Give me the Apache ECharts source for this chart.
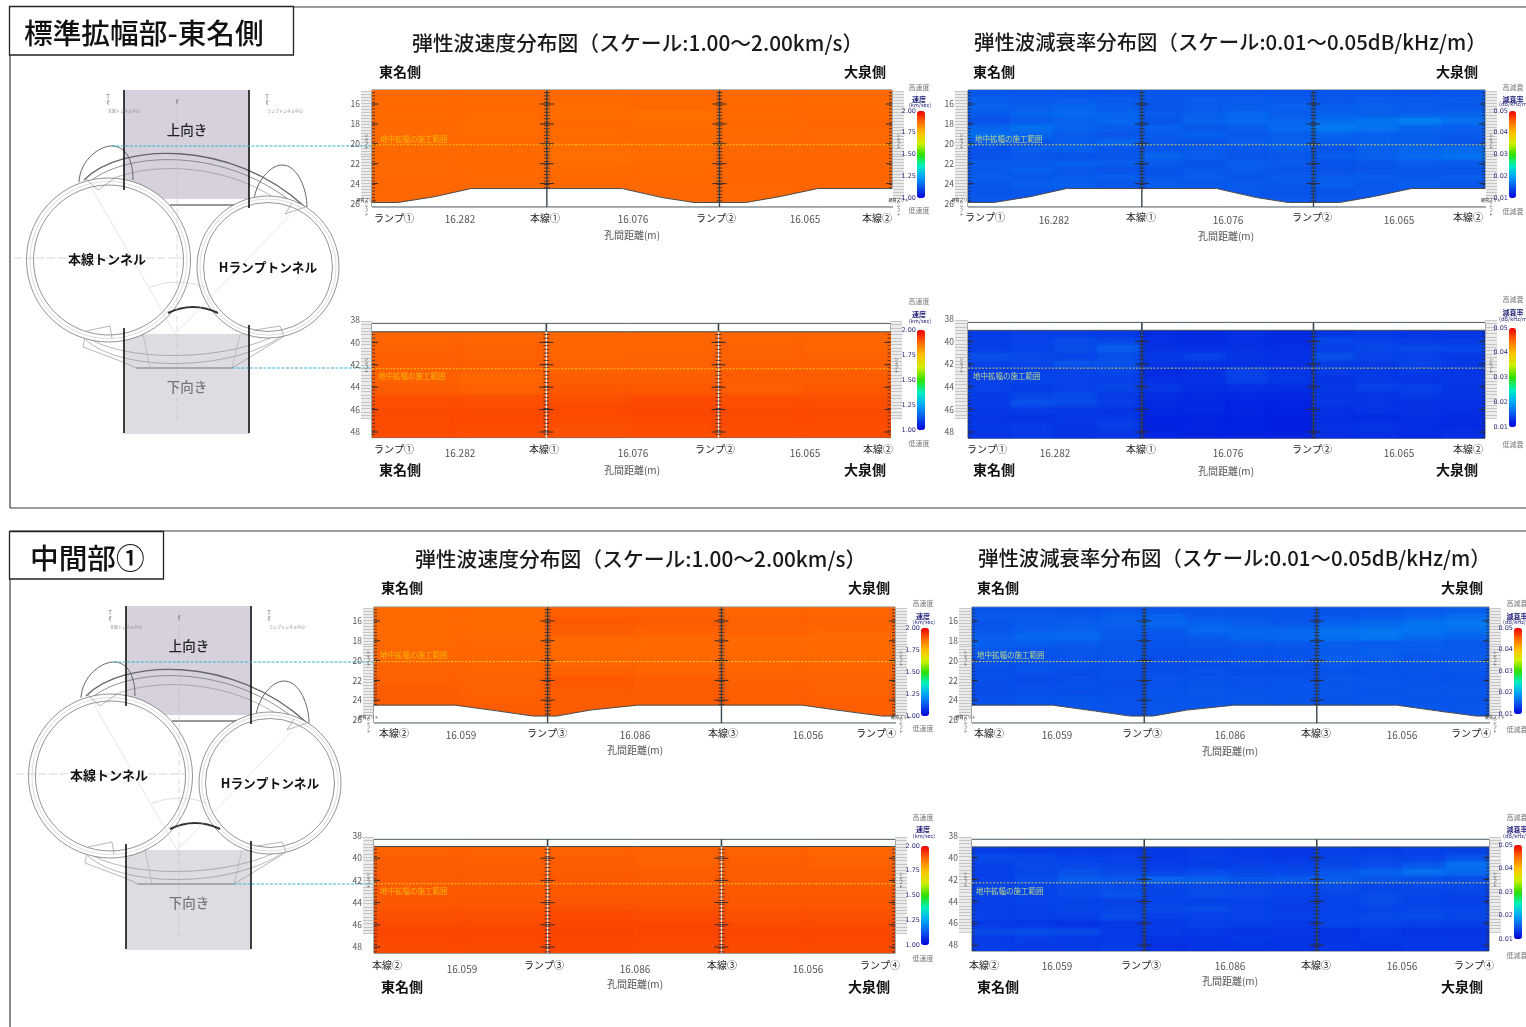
<!DOCTYPE html>
<html><head><meta charset="utf-8">
<style>html,body{margin:0;padding:0;background:#fff}#c{width:1526px;height:1027px}</style>
<script src="https://cdn.jsdelivr.net/npm/echarts@6/dist/echarts.min.js"></script>
</head><body><div id="c"></div>
<script>
// ---------- DATA ----------
const spacingEast = [16.282, 16.076, 16.065];
const spacingMid = [16.059, 16.086, 16.056];
const holesEast = ['ランプ①', '本線①', 'ランプ②', '本線②'];
const holesMid = ['本線②', 'ランプ③', '本線③', 'ランプ④'];
const upperDepthTicks = [16, 18, 20, 22, 24, 26];
const lowerDepthTicks = [38, 40, 42, 44, 46, 48];
const velocityTicks = [1.00, 1.25, 1.50, 1.75, 2.00];
const attenuationTicks = [0.01, 0.02, 0.03, 0.04, 0.05];
// lower edge of the measured section: [distance m, depth m]
const profileEast = [[0,25.9],[2.4,25.9],[5.9,25.3],[9.2,24.5],[23.3,24.5],[27,25.4],[30,25.9],[34.8,25.9],[38,25.3],[41.5,24.5],[48.423,24.5]];
const profileMid = [[0,24.5],[7.5,24.5],[11.5,25.1],[14.7,25.6],[16.9,25.6],[20,25.0],[24.4,24.5],[39.6,24.5],[43.5,25.1],[47,25.6],[48.201,25.6]];
// velocity, km/s
const velUpperEast = [
[1.875,1.875,1.875,1.875,1.875,1.875],[1.875,1.875,1.872,1.875,1.875,1.875],[1.875,1.875,1.870,1.868,1.875,1.875],
[1.875,1.872,1.875,1.870,1.875,1.878],[1.875,1.875,1.875,1.875,1.876,1.876],[1.875,1.875,1.870,1.872,1.876,1.876],
[1.875,1.875,1.868,1.870,1.876,1.878],[1.876,1.875,1.872,1.875,1.878,1.878],[1.876,1.876,1.875,1.875,1.878,1.878],
[1.878,1.876,1.876,1.876,1.878,1.878],[1.878,1.878,1.878,1.878,1.878,1.880]];
const velLowerEast = [
[1.880,1.880,1.878,1.878,1.880,1.880],[1.885,1.885,1.880,1.880,1.885,1.880],[1.888,1.885,1.882,1.885,1.885,1.885],
[1.888,1.888,1.885,1.885,1.888,1.888],[1.885,1.878,1.888,1.888,1.890,1.890],[1.890,1.885,1.895,1.895,1.888,1.895],
[1.905,1.905,1.905,1.910,1.905,1.905],[1.910,1.910,1.912,1.915,1.910,1.910],[1.910,1.912,1.908,1.912,1.910,1.910],
[1.910,1.908,1.905,1.908,1.908,1.908]];
const velUpperMid = [
[1.875,1.875,1.885,1.885,1.880,1.880],[1.875,1.875,1.895,1.892,1.885,1.885],[1.875,1.875,1.890,1.885,1.885,1.880],
[1.875,1.878,1.875,1.875,1.875,1.875],[1.878,1.878,1.875,1.875,1.875,1.875],[1.880,1.880,1.878,1.878,1.878,1.878],
[1.885,1.882,1.885,1.880,1.882,1.880],[1.885,1.885,1.895,1.890,1.885,1.885],[1.890,1.885,1.892,1.892,1.888,1.885],
[1.890,1.888,1.890,1.890,1.888,1.888],[1.890,1.890,1.890,1.890,1.888,1.888]];
const velLowerMid = [
[1.885,1.885,1.885,1.885,1.885,1.880],[1.890,1.888,1.890,1.885,1.888,1.885],[1.892,1.890,1.892,1.890,1.890,1.890],
[1.892,1.892,1.895,1.892,1.892,1.892],[1.895,1.895,1.895,1.895,1.895,1.895],[1.895,1.895,1.900,1.898,1.895,1.895],
[1.905,1.905,1.910,1.908,1.905,1.905],[1.912,1.912,1.915,1.915,1.912,1.912],[1.915,1.915,1.918,1.915,1.915,1.915],
[1.912,1.912,1.915,1.912,1.912,1.912]];
// attenuation, in 0.001 dB/kHz/m
const attUpperEast = [
[15.2,15.0,15.0,14.8,15.2,15.0,15.0,15.0,15.0,15.0,14.8,15.0],
[15.6,15.3,15.5,15.5,15.2,15.5,15.6,15.2,15.2,15.5,15.5,15.5],
[15.9,15.6,16.0,15.5,15.0,15.5,15.5,15.8,15.6,15.8,15.5,15.2],
[15.4,16.1,16.4,15.9,15.4,15.6,16.1,15.5,15.8,15.6,15.6,15.8],
[14.8,15.4,15.8,16.2,15.0,16.0,16.3,16.0,16.3,16.8,17.8,16.8],
[15.9,16.6,16.0,15.6,15.8,15.2,15.6,16.4,17.4,17.0,16.0,15.8],
[16.6,16.2,15.4,15.0,15.4,15.8,15.2,15.6,16.0,15.8,15.6,15.4],
[15.4,15.0,15.6,16.0,15.2,15.0,15.6,15.8,15.5,15.8,15.6,15.0],
[15.0,15.6,15.8,15.2,15.0,15.4,15.2,15.6,15.0,15.6,16.0,16.2],
[14.8,15.2,14.8,15.0,16.0,15.6,15.0,15.2,15.6,15.8,16.4,16.8],
[15.6,15.4,15.8,15.6,15.4,15.0,15.6,15.4,15.0,15.2,15.6,15.4],
[15.2,15.8,15.2,14.8,14.8,15.2,15.4,15.0,14.8,15.0,15.2,15.0],
[15.6,15.2,15.4,15.6,15.2,15.6,15.0,15.4,15.4,15.6,15.2,15.6],
[15.2,15.6,15.8,15.2,15.6,15.2,15.4,15.2,15.8,15.2,15.6,15.2],
[15.0,15.2,15.0,15.4,15.0,15.4,15.2,15.0,15.0,15.4,15.0,15.0],
[15.2,15.0,15.2,15.0,15.2,15.0,15.0,15.2,15.2,15.0,15.2,15.2]];
const attLowerEast = [
[13.6,13.8,13.6,13.4,12.6,12.6,12.8,12.6,13.2,13.4,13.2,13.2],
[13.8,14.0,14.4,14.2,12.8,12.6,12.8,12.6,14.2,13.8,13.6,13.6],
[13.6,14.0,14.6,15.6,13.0,12.8,13.0,12.8,13.8,14.2,14.4,14.2],
[14.8,14.4,14.0,14.6,13.4,14.0,13.2,13.0,14.8,14.0,13.8,13.4],
[14.0,14.2,15.0,14.8,13.2,13.0,12.8,12.8,13.6,13.6,14.0,13.4],
[13.6,13.8,14.0,14.2,12.6,12.8,13.8,13.2,13.6,13.4,13.6,13.2],
[13.8,14.2,14.0,13.8,12.8,13.0,14.0,13.4,13.2,13.4,13.2,13.4],
[14.0,13.6,13.8,14.2,13.4,12.8,13.0,12.8,13.4,14.0,13.8,13.2],
[13.6,14.0,14.4,13.6,12.8,12.6,12.6,12.4,13.2,13.2,13.6,13.2],
[13.6,14.8,14.6,13.8,12.6,12.4,12.2,12.2,13.4,13.2,13.0,13.0],
[13.4,13.6,13.4,13.2,12.4,12.6,12.2,12.0,12.8,13.2,13.0,12.8],
[13.2,13.0,13.4,13.4,12.2,12.2,12.0,12.0,12.8,12.6,12.8,12.6],
[13.4,13.6,13.2,13.8,12.0,12.2,12.0,11.8,13.0,13.2,12.8,12.6],
[13.2,13.4,13.0,13.2,12.2,12.0,12.0,12.0,12.8,12.8,12.6,12.8]];
const attUpperMid = [
[15.0,15.0,14.8,15.0,15.0,15.0,15.0,15.0,15.0,15.0,15.4,15.6],
[15.4,15.4,15.2,15.6,15.8,15.2,15.2,15.0,15.2,15.4,15.8,16.4],
[15.0,15.4,15.6,15.8,16.2,15.8,15.4,15.2,15.8,16.2,16.8,17.2],
[15.2,15.6,15.8,15.4,15.4,16.4,16.0,16.0,16.8,17.0,17.0,16.6],
[15.6,16.2,16.4,15.4,15.0,15.4,16.2,16.4,16.8,17.2,16.4,16.0],
[15.8,15.6,15.4,15.0,15.0,15.2,15.2,15.4,15.6,15.4,15.4,15.2],
[15.2,15.0,15.2,15.2,14.8,14.8,15.0,15.0,15.4,15.8,15.6,15.4],
[15.0,14.8,15.0,15.0,14.6,14.8,14.8,15.0,15.6,15.6,15.2,15.4],
[14.8,15.0,14.8,14.8,14.6,14.6,14.8,14.8,15.2,15.0,15.0,15.2],
[14.6,14.8,14.6,14.8,14.6,14.8,14.6,14.6,14.8,14.8,15.0,15.0],
[14.8,14.4,14.6,14.8,15.0,14.8,14.8,14.8,15.2,15.0,14.8,14.8],
[14.6,14.6,14.8,14.6,14.8,15.0,14.8,15.0,15.0,15.2,15.0,15.0],
[14.6,14.8,14.6,14.8,15.0,15.2,15.0,15.0,15.2,15.0,15.2,15.2],
[14.8,15.0,15.0,14.8,15.0,15.0,15.2,15.0,15.0,15.2,15.0,15.0],
[14.8,14.8,15.0,15.0,15.0,15.2,15.0,15.0,15.0,15.0,15.2,15.0],
[14.8,15.0,14.8,14.8,15.0,15.0,15.0,15.0,15.0,15.0,15.0,15.0]];
const attLowerMid = [
[13.6,13.4,13.4,13.4,13.4,13.6,13.4,13.2,13.8,13.6,13.8,13.8],
[14.4,14.2,13.8,13.8,13.4,13.8,13.6,13.4,14.0,14.2,14.0,14.6],
[14.0,14.4,14.2,14.0,13.6,13.6,13.8,13.8,14.2,14.4,15.0,16.6],
[13.8,14.2,14.8,14.4,14.0,14.4,14.2,14.2,15.0,15.8,16.8,16.4],
[13.8,14.6,15.6,15.2,16.0,15.8,15.0,15.4,15.6,15.2,14.8,14.6],
[14.0,14.2,14.4,14.6,14.2,14.4,14.2,14.0,14.6,14.2,14.4,14.4],
[14.2,14.0,14.4,15.0,14.0,14.6,14.4,14.0,14.2,14.4,14.2,14.0],
[13.8,14.0,14.0,14.0,14.0,13.8,13.8,13.8,14.0,14.6,14.0,13.8],
[13.8,14.0,14.2,14.2,14.4,14.6,14.0,13.6,14.0,14.0,14.2,14.2],
[14.0,13.8,14.0,14.6,13.8,13.8,14.0,14.0,14.0,14.4,14.6,14.2],
[13.4,13.2,13.0,13.4,13.6,14.0,13.8,13.4,14.2,14.2,13.8,13.8],
[14.4,14.6,14.4,13.6,13.6,13.4,13.2,13.4,13.0,13.4,13.2,13.2],
[13.6,13.8,13.6,13.4,13.2,13.2,13.4,13.2,13.2,13.4,13.4,13.4],
[13.6,13.4,13.4,13.6,12.8,13.0,13.0,13.0,13.2,13.0,13.2,13.2]];

// ---------- LAYOUT ----------
const JP = '"Noto Sans CJK JP","Noto Sans",sans-serif';
const velColors = ['#0000d8','#0a55ec','#00a8f8','#00f0c0','#30e000','#d0f000','#ffc000','#ff6a00','#f00000'];
const panels = [
 {kind:'v',rows:velUpperEast,spacing:spacingEast,holes:holesEast,profile:profileEast,ticks:upperDepthTicks,x0:372,x1:892,y0:104,y1:203.5,d0:16,d1:26,dMin:14.6,dMax:26.35,heatTop:14.6,heatBot:25.95,line:20.1,
  rl:[361,372],rr:[893,904],rMin:14.7,rMax:25.5,lab:{hx:[394,545,716,877],hy:218,sx:[460,633,805],sy:219,ax:632,ay:235},note:[380,139],bar:[917,111,8,87],lg:[919,87,99,105,210]},
 {kind:'a',rows:attUpperEast,spacing:spacingEast,holes:holesEast,profile:profileEast,ticks:upperDepthTicks,x0:968,x1:1485,y0:104,y1:203.5,d0:16,d1:26,dMin:14.6,dMax:26.35,heatTop:14.6,heatBot:25.95,line:20.1,
  rl:[955,968],rr:[1485,1497],rMin:14.7,rMax:25.5,lab:{hx:[985,1141,1312,1468],hy:217,sx:[1054,1228,1399],sy:220,ax:1226,ay:236},note:[975,139],bar:[1509,111,7,87],lg:[1513,87,99,104,211]},
 {kind:'v',rows:velLowerEast,spacing:spacingEast,holes:holesEast,ticks:lowerDepthTicks,x0:372,x1:890.5,y0:320,y1:432,d0:38,d1:48,dMin:38.3,dMax:48.5,heatTop:39.05,heatBot:48.5,line:42.35,
  rl:[361,372],rr:[891,902],rMin:38.1,rMax:46.8,lab:{hx:[394,544,715,878],hy:449,sx:[460,633,805],sy:453,ax:632,ay:470},note:[378,376],bar:[917,330,8,100],lg:[919,301,314,321,443]},
 {kind:'a',rows:attLowerEast,spacing:spacingEast,holes:holesEast,ticks:lowerDepthTicks,x0:968,x1:1485,y0:319,y1:432,d0:38,d1:48,dMin:38.3,dMax:48.55,heatTop:39,heatBot:48.55,line:42.35,
  rl:[955,968],rr:[1485,1497],rMin:38.1,rMax:46.8,lab:{hx:[987,1141,1312,1468],hy:449,sx:[1055,1228,1399],sy:453,ax:1226,ay:471},note:[973,376],bar:[1509,328,7,99],lg:[1513,299,312,319,444]},
 {kind:'v',rows:velUpperMid,spacing:spacingMid,holes:holesMid,profile:profileMid,ticks:upperDepthTicks,x0:374,x1:895,y0:621,y1:720,d0:16,d1:26,dMin:14.6,dMax:26.3,heatTop:14.6,heatBot:25.7,line:20.1,
  rl:[363,374],rr:[895,907],rMin:14.7,rMax:25.5,lab:{hx:[394,547,723,876],hy:733,sx:[461,635,808],sy:735,ax:635,ay:750},note:[380,655],bar:[921,628,8,88],lg:[923,603,616,622,728]},
 {kind:'a',rows:attUpperMid,spacing:spacingMid,holes:holesMid,profile:profileMid,ticks:upperDepthTicks,x0:972,x1:1489,y0:621,y1:720,d0:16,d1:26,dMin:14.6,dMax:26.3,heatTop:14.6,heatBot:25.7,line:20.1,
  rl:[959,972],rr:[1489,1501],rMin:14.7,rMax:25.5,lab:{hx:[989,1142,1316,1471],hy:733,sx:[1057,1230,1402],sy:735,ax:1230,ay:751},note:[977,655],bar:[1514,628,8,86],lg:[1517,603,616,622,729]},
 {kind:'v',rows:velLowerMid,spacing:spacingMid,holes:holesMid,ticks:lowerDepthTicks,x0:374,x1:895,y0:836,y1:947,d0:38,d1:48,dMin:38.3,dMax:48.55,heatTop:38.95,heatBot:48.55,line:42.3,
  rl:[363,374],rr:[895,907],rMin:38.1,rMax:46.8,lab:{hx:[387,544,722,880],hy:965,sx:[462,635,808],sy:969,ax:635,ay:984},note:[380,891],bar:[921,846,8,99],lg:[923,817,829,836,958]},
 {kind:'a',rows:attLowerMid,spacing:spacingMid,holes:holesMid,ticks:lowerDepthTicks,x0:972,x1:1489,y0:836,y1:945,d0:38,d1:48,dMin:38.3,dMax:48.55,heatTop:39,heatBot:48.55,line:42.3,
  rl:[959,972],rr:[1489,1501],rMin:38.1,rMax:46.8,lab:{hx:[984,1141,1316,1474],hy:965,sx:[1057,1230,1402],sy:966,ax:1230,ay:981},note:[976,891],bar:[1514,845,8,94],lg:[1517,817,829,836,955]}
];
const sideHeads = [[400,865,72],[994,1457,72],[400,865,470],[994,1457,470],[402,869,588],[998,1462,588],[402,869,987],[998,1462,987]];

// ---------- BUILD ----------
const grid=[],xAxis=[],yAxis=[],series=[],visualMap=[],g=[];
function txt(x,y,s,size,color,weight,align){
  g.push({type:'text',silent:true,x,y,style:{text:s,font:(weight||'normal')+' '+size+'px '+JP,fill:color||'#222',align:align||'center',verticalAlign:'middle'},z:20});
}
function addGrid(o,xa,ya){grid.push(o);xAxis.push(Object.assign({gridIndex:grid.length-1},xa));yAxis.push(Object.assign({gridIndex:grid.length-1},ya));return grid.length-1;}
const hidX={type:'value',show:false,min:0,max:1};

panels.forEach((p,pi)=>{
  const k=(p.y1-p.y0)/(p.d1-p.d0), py=d=>p.y0+(d-p.d0)*k;
  const total=p.spacing.reduce((a,b)=>a+b,0);
  const cum=[0]; p.spacing.forEach(s=>cum.push(cum[cum.length-1]+s));
  const lower=!p.profile;
  // rulers
  [p.rl,p.rr].forEach(r=>addGrid({left:r[0],width:r[1]-r[0],top:py(p.rMin),height:py(p.rMax)-py(p.rMin),show:true,backgroundColor:'#ececec',borderWidth:0},hidX,
    {type:'value',inverse:true,min:p.rMin,max:p.rMax,interval:0.3,axisLine:{show:false},axisTick:{show:false},axisLabel:{show:false},splitLine:{show:true,lineStyle:{color:'#b4b4b4',width:0.7}}}));
  // depth scale
  const first=p.ticks[0],last=p.ticks[p.ticks.length-1];
  addGrid({left:p.rl[0],width:1,top:py(first),height:py(last)-py(first),show:false},hidX,
    {type:'value',inverse:true,min:first,max:last,interval:2,axisLine:{show:false},axisTick:{show:false},splitLine:{show:false},
     axisLabel:{margin:1,fontSize:8.5,color:'#555',fontFamily:JP}});
  // main plot
  const gi=addGrid({left:p.x0,width:p.x1-p.x0,top:py(p.dMin),height:py(p.dMax)-py(p.dMin),show:true,backgroundColor:'#fff',borderColor:'#4a5a60',borderWidth:1},
    {type:'value',min:0,max:total,show:false},
    {type:'value',inverse:true,min:p.dMin,max:p.dMax,show:false});
  const axisRef={xAxisIndex:gi,yAxisIndex:gi};
  // cells
  const nr=p.rows.length,nc=p.rows[0].length,cells=[];
  const rowH=(p.heatBot-p.heatTop)/nr,colW=total/nc;
  p.rows.forEach((row,i)=>row.forEach((v,j)=>cells.push([j*colW,(j+1)*colW,p.heatTop+i*rowH,p.heatTop+(i+1)*rowH,p.kind==='a'?v/1000:v])));
  series.push(Object.assign({type:'custom',name:'cells'+pi,silent:true,animation:false,clip:true,encode:{x:[0,1],y:[2,3]},data:cells,z:2,
    renderItem:(ps,api)=>{const a=api.coord([api.value(0),api.value(2)]),b=api.coord([api.value(1),api.value(3)]),col=api.visual('color');
      return {type:'rect',shape:{x:a[0],y:a[1],width:b[0]-a[0]+0.7,height:b[1]-a[1]+0.7},style:{fill:col,shadowBlur:7,shadowColor:col}};}},axisRef));
  const cellIdx=series.length-1;
  // white band outside the measured section
  if(p.profile){
    const seg=[];for(let i=0;i+1<p.profile.length;i++)seg.push([p.profile[i][0],p.profile[i][1],p.profile[i+1][0],p.profile[i+1][1]]);
    series.push(Object.assign({type:'custom',silent:true,animation:false,encode:{x:[0,2],y:[1,3]},data:seg,z:3,
      renderItem:(ps,api)=>{const a=api.coord([api.value(0),api.value(1)]),b=api.coord([api.value(2),api.value(3)]),
        c=api.coord([api.value(2),p.dMax]),d=api.coord([api.value(0),p.dMax]);
        const wide=b[0]+1;
        return {type:'group',children:[{type:'polygon',shape:{points:[a,[wide,b[1]],[wide,c[1]+1],[d[0],d[1]+1]]},style:{fill:'#fff'}},
          {type:'line',shape:{x1:a[0],y1:a[1],x2:b[0],y2:b[1]},style:{stroke:'#4a4a4a',lineWidth:1}},
          {type:'line',shape:{x1:d[0],y1:d[1],x2:wide,y2:c[1]},style:{stroke:'#4a5a60',lineWidth:1}}]};}},axisRef));
  } else {
    series.push(Object.assign({type:'custom',silent:true,animation:false,encode:{x:[0,1],y:[2,3]},data:[[0,total,p.dMin+0.06,p.heatTop]],z:3,
      renderItem:(ps,api)=>{const a=api.coord([api.value(0),api.value(2)]),b=api.coord([api.value(1),api.value(3)]);
        return {type:'group',children:[{type:'rect',shape:{x:a[0],y:a[1],width:b[0]-a[0],height:b[1]-a[1]},style:{fill:'#fff'}},
          {type:'line',shape:{x1:a[0],y1:b[1],x2:b[0],y2:b[1]},style:{stroke:'#3a4a54',lineWidth:1}}]};}},axisRef));
  }
  // bore-hole lines with receiver marks
  const bores=[];
  const boreEnd=x=>{if(lower)return p.heatBot;let e=p.profile[0][1];p.profile.forEach(q=>{if(q[0]<=x+2.2)e=q[1];});return e;};
  cum.forEach((x,bi)=>{
    const side=bi===0?1:(bi===cum.length-1?-1:0);
    const e=boreEnd(x);
    bores.push([x,p.dMin,p.dMax,0,side]);
    for(let d=p.heatTop+0.25;d<e;d+=0.33)bores.push([x,d,d,1,side]);
    p.ticks.forEach(d=>{if(d>p.heatTop&&d<e)bores.push([x,d,d,2,side]);});
  });
  const heatStroke=(p.kind==='v'&&lower)?'#f4f4f4':'#39474e';
  series.push(Object.assign({type:'custom',silent:true,animation:false,clip:false,encode:{x:0,y:[1,2]},data:bores,z:4,
    renderItem:(ps,api)=>{const x=api.value(0),t=api.value(3),s=api.value(4);
      const a=api.coord([x,api.value(1)]);
      if(t===0){const b=api.coord([x,api.value(2)]);
        if(s!==0)return null;
        if(lower){const m=api.coord([x,p.heatTop]);
          return {type:'group',children:[
            {type:'line',shape:{x1:a[0],y1:a[1],x2:a[0],y2:m[1]},style:{stroke:'#39474e',lineWidth:1.6}},
            {type:'line',shape:{x1:a[0],y1:m[1],x2:a[0],y2:b[1]},style:{stroke:heatStroke,lineWidth:1.4}}]};}
        return {type:'line',shape:{x1:a[0],y1:a[1],x2:a[0],y2:b[1]},style:{stroke:heatStroke,lineWidth:1.4}};}
      const len=t===2?(s?6:7):3;
      const x1=s===-1?a[0]-len:(s===1?a[0]:a[0]-len),x2=s===-1?a[0]:(s===1?a[0]+len:a[0]+len);
      return {type:'line',shape:{x1,y1:a[1],x2,y2:a[1]},style:{stroke:'#2c2a33',lineWidth:t===2?1:0.8}};}},axisRef));
  // section line
  series.push(Object.assign({type:'line',silent:true,animation:false,symbol:'none',z:5,data:[[0,p.line],[total,p.line]],
    lineStyle:{type:[2,1.5],width:1,color:p.kind==='v'?'#f5c518':'#c9c65e'}},axisRef));
  // colour bar + scale
  const b=p.bar,isV=p.kind==='v';
  visualMap.push({type:'continuous',seriesIndex:cellIdx,dimension:4,min:isV?1:0.01,max:isV?2:0.05,calculable:false,realtime:false,
    left:b[0],top:b[1],itemWidth:b[2],itemHeight:b[3],padding:0,text:null,showLabel:false,inRange:{color:velColors},hoverLink:false});
  addGrid({left:b[0],width:b[2],top:b[1],height:b[3],show:false},hidX,
    {type:'value',min:isV?1:0.01,max:isV?2:0.05,interval:isV?0.25:0.01,axisLine:{show:false},axisTick:{show:false},splitLine:{show:false},
     axisLabel:{margin:1,fontSize:6.5,color:'#2a2a7a',fontFamily:'"DejaVu Sans"',formatter:v=>v.toFixed(2)}});
  const L=p.lg;
  txt(L[0],L[1],isV?'高速度':'高減衰',7,'#777');
  txt(L[0],L[2],isV?'速度':'減衰率',7,'#22227a','bold');
  txt(L[0]+1,L[3],isV?'(km/sec)':'(dB/kHz/m)',5.5,'#22227a');
  txt(L[0],L[4],isV?'低速度':'低減衰',7,'#777');
  // labels
  p.holes.forEach((h,i)=>txt(p.lab.hx[i],p.lab.hy,h,10,'#222'));
  p.spacing.forEach((s,i)=>txt(p.lab.sx[i],p.lab.sy,s.toFixed(3),10,'#555'));
  txt(p.lab.ax,p.lab.ay,'孔間距離(m)',10,'#555');
  txt(p.note[0],p.note[1],'地中拡幅の施工範囲',7.5,isV?'#f5b400':'#bcd78a','normal','left');
  // shaft marks on rulers
  [p.rl,p.rr].forEach(r=>{
    txt((r[0]+r[1])/2,py(p.line)-3,'シ\nャ\nフ\nト',4,'#333');
    if(!lower){txt((r[0]+r[1])/2,py(25.7),'硬質ズリト',4,'#222');txt((r[0]+r[1])/2,py(26)+5,'シ\nャ\nフ\nト',4,'#333');}
  });
  const h=sideHeads[pi];
  txt(h[0],h[2],'東名側',14,'#111','bold');txt(h[1],h[2],'大泉側',14,'#111','bold');
});

// titles
[[412,43,'弾性波速度分布図（スケール:1.00～2.00km/s）',20.8],[974,42,'弾性波減衰率分布図（スケール:0.01～0.05dB/kHz/m）',20.4],
 [415,559,'弾性波速度分布図（スケール:1.00～2.00km/s）',20.8],[978,558,'弾性波減衰率分布図（スケール:0.01～0.05dB/kHz/m）',20.4]]
 .forEach(t=>txt(t[0],t[1],t[2],t[3],'#1a1a1a','500','left'));

// frames
function fr(x1,y1,x2,y2){g.push({type:'line',silent:true,shape:{x1,y1,x2,y2},style:{stroke:'#3c3c3c',lineWidth:1.2},z:1});}
fr(10,7,1526,7);fr(10,7,10,508);fr(10,508,1526,508);fr(10,531,1526,531);fr(10,531,10,1027);
[[9.5,6.5,284,48.5],[9.5,531.5,154,47.5]].forEach(r=>g.push({type:'rect',silent:true,shape:{x:r[0],y:r[1],width:r[2],height:r[3]},style:{fill:'#fff',stroke:'#222',lineWidth:1.3},z:2}));
txt(24,33,'標準拡幅部-東名側',28.7,'#111','500','left');
txt(30,558,'中間部①',28.7,'#111','500','left');

// cross-section sketch
function sketch(ox,oy){
  const ch=[];
  // small path helper: M/L become polylines, C/Q become bezier curves
  const P=(d,stroke,w,extra)=>{
    const style=Object.assign({fill:'none',stroke,lineWidth:w},extra||{});
    const toks=d.match(/[MLCQ]|-?[\d.]+/g);let i=0,cx=0,cy=0,pts=null;
    const num=()=>parseFloat(toks[i++]);
    const flush=()=>{if(pts&&pts.length>1)ch.push({type:'polyline',shape:{points:pts},style});pts=null;};
    while(i<toks.length){const c=toks[i++];
      if(c==='M'){flush();cx=num();cy=num();pts=[[cx,cy]];}
      else if(c==='L'){cx=num();cy=num();(pts=pts||[]).push([cx,cy]);}
      else if(c==='C'){flush();const a=num(),b=num(),e=num(),f=num(),x=num(),y=num();
        ch.push({type:'bezierCurve',shape:{x1:cx,y1:cy,cpx1:a,cpy1:b,cpx2:e,cpy2:f,x2:x,y2:y},style});cx=x;cy=y;pts=[[cx,cy]];}
      else if(c==='Q'){flush();const a=num(),b=num(),x=num(),y=num();
        ch.push({type:'bezierCurve',shape:{x1:cx,y1:cy,cpx1:a,cpy1:b,x2:x,y2:y},style});cx=x;cy=y;pts=[[cx,cy]];}
    }
    flush();
  };
  const R=(x,y,w,h,fill)=>ch.push({type:'rect',shape:{x,y,width:w,height:h},style:{fill}});
  const C=(cx,cy,r,stroke,w,fill)=>ch.push({type:'circle',shape:{cx,cy,r},style:{fill:fill||'none',stroke,lineWidth:w}});
  R(124,90,125,109,'#d6d1dd');R(124,334,125,100,'#dedbe3');
  P('M84 180 C120 143 230 138 305 207','#666',1.3);
  P('M86 185 C122 150 230 145 301 210','#777',0.8);
  P('M90 192 C126 160 230 155 296 214','#8a8a8a',0.6);
  P('M79 182 C80 160 100 145 113 146 C126 147 133 160 133 180','#666',1);
  P('M254 200 C256 182 270 165 282 165 C298 165 307 190 307 207','#666',1);
  P('M170 205 L249 205','#333',1);
  P('M86 332 L83 347 L123 362 L136 368 L232 368 L283 337 L277 326','#888',0.6);
  P('M84 335 C120 363 230 363 284 331','#888',0.6);
  P('M86 340 C122 372 230 372 282 336','#888',0.6);
  P('M136 368 L232 368','#a0a0a0',1.6);
  P('M143 334 L150 368 M240 334 L232 368','#aaa',0.6);
  C(108.5,260,82,'#666',0.7,'#fff');C(108.5,260,78.5,'#bbb',0.5);C(108.5,260,75,'#666',0.7);
  C(268,267,71,'#666',0.7,'#fff');C(268,267,68,'#bbb',0.5);C(268,267,64.5,'#666',0.7);
  P('M85 178 L98 190 L115 178','#888',0.6);P('M292 203 L285 214 L305 207','#888',0.6);
  P('M86 331 L110 326 L112 338','#888',0.6);P('M255 330 L280 326 L284 336','#888',0.6);
  P('M168 313 Q193 301 218 313','#333',2);
  P('M177 100 L177 420','#bbb',0.5,{lineDash:[6,3]});
  P('M14 258 L184 258','#bbb',0.6,{lineDash:[8,3]});
  P('M90 185 L175 334 L290 215','#ccc',0.5);
  P('M150 287 Q177 277 205 287','#bbb',0.5);
  ['M124 90 L124 190','M249 90 L249 208','M124 328 L124 433','M249 325 L249 433'].forEach(d=>P(d,'#111',1.6));
  P('M112 146 L372 146','#34b4cc',1,{lineDash:[3,1.5]});
  P('M232 368 L372 368','#34b4cc',1,{lineDash:[3,1.5]});
  const T=(x,y,s,size,color,weight)=>ch.push({type:'text',x,y,style:{text:s,font:(weight||'normal')+' '+size+'px '+JP,fill:color,align:'center',verticalAlign:'middle'}});
  T(187,130,'上向き',13.5,'#222','500');T(187,387,'下向き',13.5,'#777','500');
  T(107,259,'本線トンネル',13,'#111','bold');T(268,267,'Hランプトンネル',12.7,'#111','bold');
  T(108,100,'T\nℓ',6,'#777');T(177,102,'ℓ',6,'#777');T(267,100,'T\nℓ',6,'#777');
  T(124,111,'本線トンネル中心',4,'#888');T(285,111,'ランプトンネル中心',4,'#888');
  g.push({type:'group',silent:true,x:ox,y:oy,z:3,children:ch});
}
sketch(0,0);sketch(2,516);

const chart=echarts.init(document.getElementById('c'),null,{renderer:'canvas'});
chart.setOption({animation:false,backgroundColor:'#fff',grid,xAxis,yAxis,series,visualMap,graphic:{elements:g}});
</script></body></html>
